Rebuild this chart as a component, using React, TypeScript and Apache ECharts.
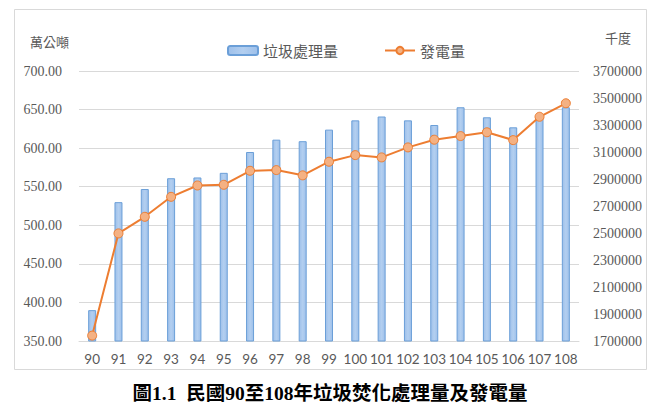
import React, { useEffect, useRef } from "react";
import * as echarts from "echarts";

const years = ["90", "91", "92", "93", "94", "95", "96", "97", "98", "99", "100", "101", "102", "103", "104", "105", "106", "107", "108"];
// 垃圾處理量 (萬公噸)
const wasteTreated = [390, 530, 547, 561, 562, 568, 595, 611, 609, 624, 636, 641, 636, 630, 653, 640, 627, 638, 653];
// 發電量 (千度)
const powerGenerated = [1740000, 2497000, 2620000, 2768000, 2852000, 2857000, 2961000, 2966000, 2927000, 3028000, 3077000, 3060000, 3134000, 3191000, 3218000, 3246000, 3188000, 3361000, 3461000];

const grey = "#595959";
const gridGrey = "#d9d9d9";

export default function App() {
  const ref = useRef<HTMLDivElement | null>(null);

  useEffect(() => {
    document.body.style.margin = "0";
    const chart = echarts.init(ref.current!, undefined, { renderer: "svg" });
    chart.setOption({
      animation: false,
      backgroundColor: "#ffffff",
      textStyle: { fontFamily: "'Liberation Serif', 'Noto Sans CJK TC', serif" },
      legend: {
        left: 222,
        top: 38,
        itemWidth: 30,
        itemHeight: 9,
        itemGap: 46,
        textStyle: { color: grey, fontSize: 15, fontFamily: "'Noto Sans CJK TC', sans-serif" },
        data: ["垃圾處理量", "發電量"],
      },
      grid: { left: 79, right: 81, top: 71, bottom: 71 },
      xAxis: {
        type: "category",
        data: years,
        axisTick: { show: false },
        axisLine: { lineStyle: { color: gridGrey } },
        axisLabel: { color: grey, fontSize: 13.5, fontFamily: "Lato, sans-serif", margin: 11, interval: 0, hideOverlap: false },
      },
      yAxis: [
        {
          type: "value",
          min: 350,
          max: 700,
          interval: 50,
          axisLine: { show: false },
          axisTick: { show: false },
          splitLine: { lineStyle: { color: gridGrey, width: 1 } },
          axisLabel: {
            color: grey,
            fontSize: 14,
            margin: 17,
            fontFamily: "'Liberation Serif', serif",
            formatter: (v: number) => v.toFixed(2),
          },
        },
        {
          type: "value",
          min: 1700000,
          max: 3700000,
          interval: 200000,
          axisLine: { show: false },
          axisTick: { show: false },
          splitLine: { show: false },
          axisLabel: {
            color: grey,
            fontSize: 14,
            margin: 14,
            fontFamily: "'Liberation Serif', serif",
            formatter: (v: number) => String(v),
          },
        },
      ],
      series: [
        {
          name: "垃圾處理量",
          type: "bar",
          yAxisIndex: 0,
          barWidth: 8,
          data: wasteTreated,
          itemStyle: {
            color: new echarts.graphic.LinearGradient(0, 0, 1, 0, [
              { offset: 0, color: "#9ec0ea" },
              { offset: 0.5, color: "#b3cff0" },
              { offset: 1, color: "#9ec0ea" },
            ]),
            borderColor: "#6b9fd8",
            borderWidth: 1,
          },
        },
        {
          name: "發電量",
          type: "line",
          yAxisIndex: 1,
          data: powerGenerated,
          symbol: "circle",
          symbolSize: 9,
          lineStyle: { color: "#ed7d31", width: 2 },
          itemStyle: { color: "#f4b183", borderColor: "#ed7d31", borderWidth: 1 },
        },
      ],
      graphic: [
        {
          type: "rect",
          shape: { x: 14.5, y: 9.5, width: 632, height: 360 },
          style: { fill: "none", stroke: gridGrey, lineWidth: 1 },
          silent: true,
          z: -1,
        },
        {
          type: "text",
          left: 30,
          top: 35,
          style: { text: "萬公噸", fill: grey, fontSize: 13, fontFamily: "'Noto Sans CJK TC', sans-serif" },
        },
        {
          type: "text",
          left: 605,
          top: 31,
          style: { text: "千度", fill: grey, fontSize: 13, fontFamily: "'Noto Sans CJK TC', sans-serif" },
        },
        {
          type: "text",
          left: "center",
          top: 384,
          style: {
            text: "圖1.1  民國90至108年垃圾焚化處理量及發電量",
            fill: "#000000",
            fontSize: 19.5,
            fontWeight: "bold",
            fontFamily: "'Liberation Serif', 'Noto Sans CJK TC', serif",
          },
        },
      ],
    });
    return () => chart.dispose();
  }, []);

  return <div ref={ref} style={{ width: 660, height: 412 }} />;
}
